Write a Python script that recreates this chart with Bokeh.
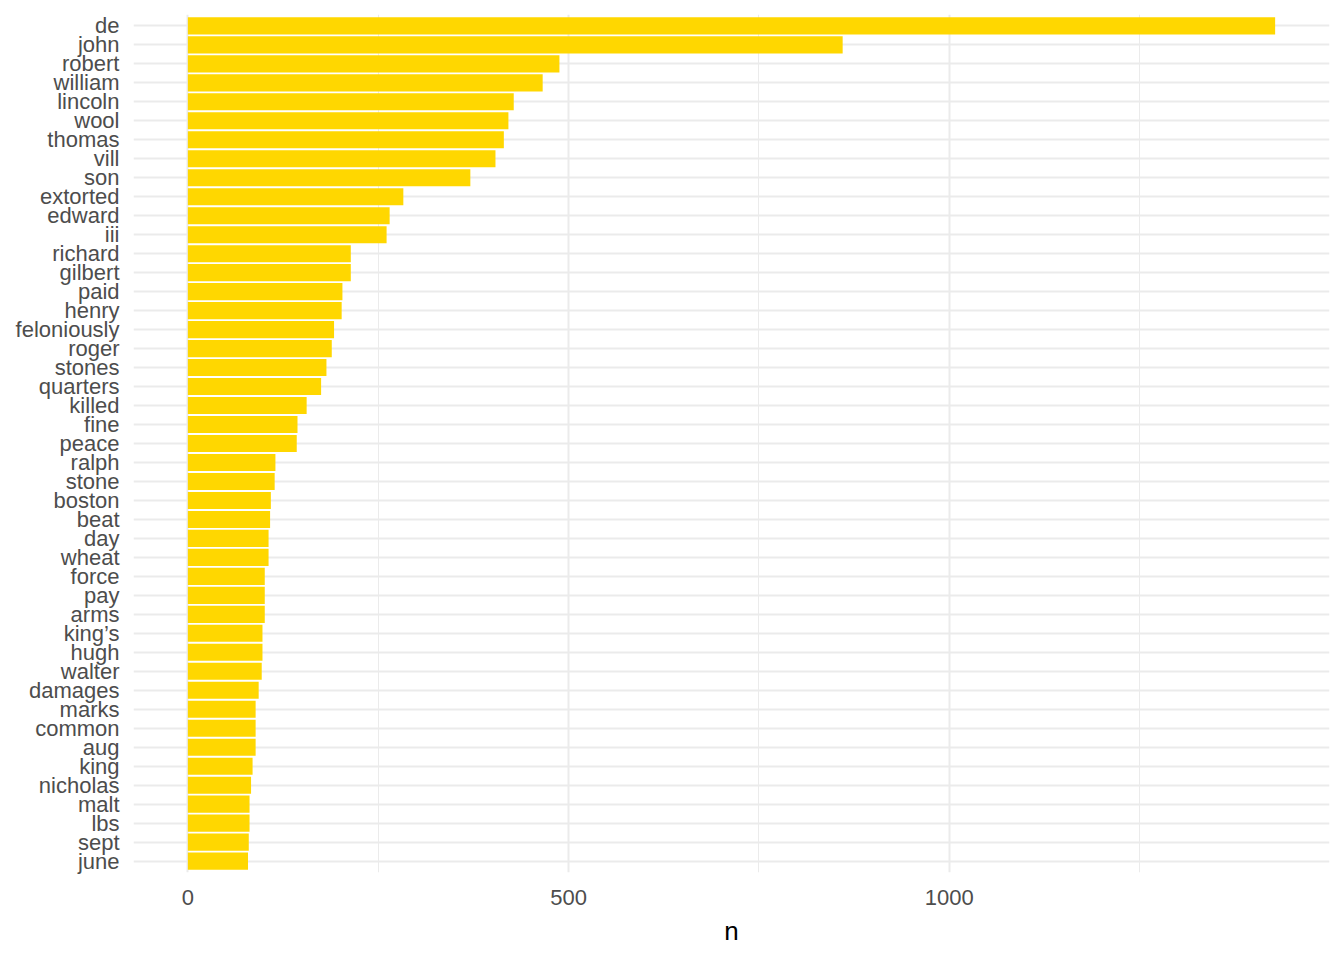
from bokeh.plotting import figure
from bokeh.models import FactorRange, Range1d, FixedTicker, ColumnDataSource
from bokeh.embed import file_html
from bokeh.resources import INLINE

words = ["de", "john", "robert", "william", "lincoln", "wool", "thomas", "vill", "son",
         "extorted", "edward", "iii", "richard", "gilbert", "paid", "henry", "feloniously",
         "roger", "stones", "quarters", "killed", "fine", "peace", "ralph", "stone", "boston",
         "beat", "day", "wheat", "force", "pay", "arms", "king\u2019s", "hugh", "walter",
         "damages", "marks", "common", "aug", "king", "nicholas", "malt", "lbs", "sept", "june"]
counts = [1428, 860, 488, 466, 428, 421, 415, 404, 371,
          283, 265, 261, 214, 214, 203, 202, 192,
          189, 182, 175, 156, 144, 143, 115, 114, 109,
          108, 106, 106, 101, 101, 101, 98, 98, 97,
          93, 89, 89, 89, 85, 83, 81, 81, 80, 79]
x_ticks = [0, 500, 1000]
x_minor = [250, 750, 1250]

src = ColumnDataSource(dict(word=words, n=counts))

p = figure(y_range=FactorRange(factors=list(reversed(words)), range_padding=0.1,
                               range_padding_units="absolute"),
           x_range=Range1d(-71.4, 1499.4),
           frame_width=1196, frame_height=858,
           min_border_left=133, min_border_top=14, min_border_right=5, min_border_bottom=10,
           output_backend="svg", toolbar_location=None)

p.hbar(y="word", right="n", left=0, height=0.9, source=src,
       fill_color="#FFD700", line_color=None)

p.outline_line_color = None
p.background_fill_color = "white"
p.border_fill_color = "white"

# x axis
p.xaxis.ticker = FixedTicker(ticks=x_ticks, minor_ticks=x_minor)
p.xaxis.axis_line_color = None
p.xaxis.major_tick_line_color = None
p.xaxis.minor_tick_line_color = None
p.xaxis.major_label_text_font = "Liberation Sans"
p.xaxis.major_label_text_font_size = "22px"
p.xaxis.major_label_text_color = "#4D4D4D"
p.xaxis.major_label_standoff = 11
p.xaxis.axis_label = "n"
p.xaxis.axis_label_text_font = "Liberation Sans"
p.xaxis.axis_label_text_font_size = "26px"
p.xaxis.axis_label_text_font_style = "normal"
p.xaxis.axis_label_text_color = "black"
p.xaxis.axis_label_standoff = 8

# y axis
p.yaxis.axis_line_color = None
p.yaxis.major_tick_line_color = None
p.yaxis.minor_tick_line_color = None
p.yaxis.major_label_text_font = "Liberation Sans"
p.yaxis.major_label_text_font_size = "22px"
p.yaxis.major_label_text_color = "#4D4D4D"
p.yaxis.major_label_standoff = 8

# grids
p.xgrid.grid_line_color = "#EBEBEB"
p.xgrid.grid_line_width = 2
p.xgrid.minor_grid_line_color = "#EBEBEB"
p.xgrid.minor_grid_line_width = 1
p.ygrid.grid_line_color = "#EBEBEB"
p.ygrid.grid_line_width = 2

open("out.html", "w").write(file_html(p, INLINE))
